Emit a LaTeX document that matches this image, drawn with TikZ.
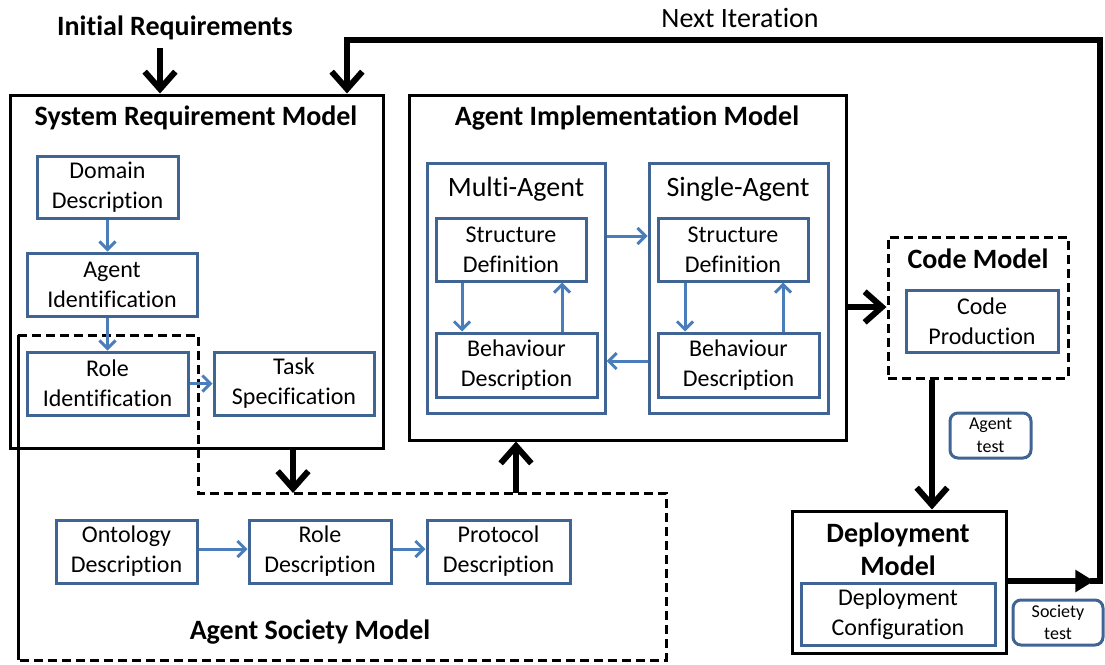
\documentclass[tikz,border=0pt]{standalone}
\usepackage{fontspec}
\setmainfont{Carlito}[Ligatures={NoCommon}]
\usepackage{tikz}
\usetikzlibrary{arrows.meta, positioning}
\definecolor{boxblue}{RGB}{64,100,148}
\definecolor{arrowblue}{RGB}{74,126,187}
\newdimen\px \px=0.75pt

\begin{document}
\begin{tikzpicture}[x=0.75pt,y=-0.75pt,
        every node/.style={inner sep=0pt},
        part/.style={draw=boxblue,line width=2.25pt,align=center,font=\fontsize{18}{22.5}\selectfont},
        testbox/.style={draw=boxblue,line width=2.25pt,rounded corners=6pt,align=center,font=\fontsize{13.5}{17}\selectfont},
        model/.style={draw,line width=2.25pt},
        dashmodel/.style={draw,line width=2.25pt,dash pattern=on 6.75pt off 3.75pt},
        heading/.style={font=\bfseries\fontsize{21}{25}\selectfont,align=center},
        plain/.style={font=\fontsize{21}{25}\selectfont},
        flow/.style={draw=arrowblue,line width=2.25pt,-{Straight Barb[length=6pt,width=12pt]}},
        bigflow/.style={line width=4.5pt,-{Straight Barb[length=13pt,width=23pt]}}]

    \useasboundingbox (0,0) rectangle (1105,664);

    % system requirement model
    \node[model,minimum width=373\px,minimum height=353\px] (srm) at (196.5,271.5) {};
    \node[heading] (srmtitle) at (196,118) {System Requirement Model};
    \node[heading] (initreq) at (175,28) {Initial Requirements};
    \node[part,minimum width=141\px,minimum height=62\px] (domain) at (107.5,187) {Domain\\Description};
    \node[part,minimum width=170\px,minimum height=63\px] (agentid) at (112,284.5) {Agent\\Identification};
    \node[part,minimum width=161\px,minimum height=63\px] (roleid) at (107.5,383.5) {Role\\Identification};
    \node[part,minimum width=160\px,minimum height=63\px] (task) at (294,383.5) {Task\\Specification};

    % agent society model
    \draw[dashmodel] (18,335) -- (198,335) -- (198,493) -- (666,493) -- (666,660) -- (18,660) -- cycle;
    \draw[line width=2.25pt] (18,335) -- (18,660);
    \coordinate (asmin) at (293,493);
    \coordinate (asmout) at (516,493);
    \node[part,minimum width=141\px,minimum height=63\px] (onto) at (126.5,551.5) {Ontology\\Description};
    \node[part,minimum width=142\px,minimum height=63\px] (roledesc) at (320,551.5) {Role\\Description};
    \node[part,minimum width=143\px,minimum height=63\px] (proto) at (498.5,551.5) {Protocol\\Description};
    \node[heading] (asmtitle) at (310,632) {Agent Society Model};

    % agent implementation model
    \node[model,minimum width=437\px,minimum height=345\px] (aim) at (627.5,267.5) {};
    \node[heading] (aimtitle) at (627,118) {Agent Implementation Model};
    \node[part,minimum width=178\px,minimum height=250\px] (multi) at (516,288) {};
    \node[plain] (multititle) at (516,189) {Multi-Agent};
    \node[part,minimum width=150\px,minimum height=63\px] (mstruct) at (511,249.5) {Structure\\Definition};
    \node[part,minimum width=161\px,minimum height=64\px] (mbehav) at (516.5,365) {Behaviour\\Description};
    \node[part,minimum width=179\px,minimum height=250\px] (single) at (738.5,288) {};
    \node[plain] (singletitle) at (738,189) {Single-Agent};
    \node[part,minimum width=150\px,minimum height=63\px] (sstruct) at (733,249.5) {Structure\\Definition};
    \node[part,minimum width=161\px,minimum height=64\px] (sbehav) at (738.5,365) {Behaviour\\Description};

    % code and deployment
    \node[dashmodel,minimum width=180\px,minimum height=141\px] (code) at (978,307.5) {};
    \node[heading] (codetitle) at (978,259) {Code Model};
    \node[part,minimum width=152\px,minimum height=62\px] (codeprod) at (982,321) {Code\\Production};
    \node[model,minimum width=214\px,minimum height=142\px] (deploy) at (899,582) {};
    \node[heading] (deploytitle) at (898,549) {Deployment\\Model};
    \node[part,minimum width=194\px,minimum height=62\px] (deployconf) at (898,614) {Deployment\\Configuration};
    \node[testbox,minimum width=81\px,minimum height=45\px] (agenttest) at (990.5,435.5) {Agent\\test};
    \node[testbox,minimum width=90\px,minimum height=45\px] (societytest) at (1058,622.5) {Society\\test};
    \node[plain] (nextit) at (740,18) {Next Iteration};

    % blue arrows
    \draw[flow] (domain.south) -- (domain.south |- agentid.north);
    \draw[flow] (agentid.south -| domain.south) -- (roleid.north);
    \draw[flow] (roleid.east) -- (task.west);
    \draw[flow] (onto.east |- 0,549) -- (roledesc.west |- 0,549);
    \draw[flow] (roledesc.east |- 0,549) -- (proto.west |- 0,549);
    \draw[flow] (multi.east |- 0,236) -- (single.west |- 0,236);
    \draw[flow] (single.west |- 0,361) -- (multi.east |- 0,361);
    \draw[flow] (mstruct.south -| 462,0) -- (mbehav.north -| 462,0);
    \draw[flow] (mbehav.north -| 562,0) -- (mstruct.south -| 562,0);
    \draw[flow] (sstruct.south -| 685,0) -- (sbehav.north -| 685,0);
    \draw[flow] (sbehav.north -| 783,0) -- (sstruct.south -| 783,0);

    % black arrows
    \draw[bigflow] (160,48) -- (srm.north -| 160,0);
    \draw[bigflow] (srm.south -| asmin) -- (asmin);
    \draw[bigflow] (asmout) -- (aim.south -| asmout);
    \draw[bigflow] (aim.east |- 0,307) -- (code.west |- 0,307);
    \draw[bigflow] (code.south -| 932,0) -- (deploy.north -| 932,0);
    \draw[line width=4.5pt,-{Triangle[length=14pt,width=16pt]}] (deploy.east |- 0,581) -- (1094,581);
    \draw[bigflow] (1090,581) -- (1100,581) -- (1100,40) -- (347,40) -- (srm.north -| 347,0);
\end{tikzpicture}
\end{document}
